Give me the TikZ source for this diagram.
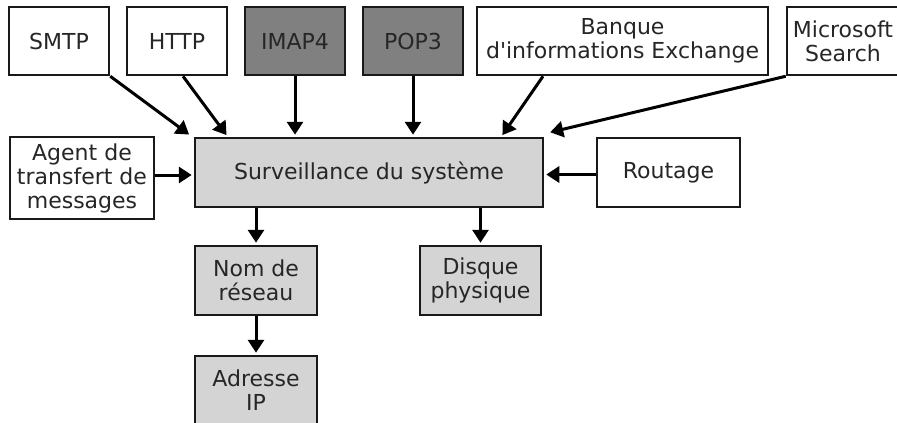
\documentclass[tikz,border=0pt]{standalone}
\usepackage{fontspec}
\setmainfont{DejaVu Sans}
\usetikzlibrary{positioning, arrows.meta}

\begin{document}
\begin{tikzpicture}[x=1pt, y=-1pt,
    box/.style={draw=black!90, line width=2.5pt, fill=white, text=black!85,
      align=center, inner sep=0pt, minimum height=68pt,
      font=\fontsize{22}{24}\selectfont},
    dark/.style={box, fill=black!50},
    light/.style={box, fill=black!17},
    flow/.style={line width=3pt, shorten >=2pt,
      -{Triangle[length=13pt, width=16pt]}}]
  \clip (0,0) rectangle (897,423);
  % sources
  \node[box, minimum width=100pt] (smtp) at (59,41) {SMTP};
  \node[box, minimum width=100pt] (http) at (177,41) {HTTP};
  \node[dark, minimum width=100pt] (imap) at (295,41) {IMAP4};
  \node[dark, minimum width=100pt] (pop) at (413,41) {POP3};
  \node[box, minimum width=291pt] (banque) at (622.5,41) {Banque\\d\textquotesingle informations Exchange};
  \node[box, minimum width=112pt] (search) at (843,41) {Microsoft\\Search};
  \node[box, minimum width=144pt, minimum height=82pt] (agent) at (82,178) {Agent de\\transfert de\\messages};
  \node[box, minimum width=143pt, minimum height=69pt] (routage) at (668.5,172.5) {Routage};
  % surveillance
  \node[light, minimum width=348pt, minimum height=69pt] (surv) at (369,172.5) {Surveillance du système};
  \node[light, minimum width=122pt, minimum height=69pt] (nom) at (256,280.5) {Nom de\\réseau};
  \node[light, minimum width=121pt, minimum height=69pt] (disque) at (480.5,280.5) {Disque\\physique};
  \node[light, minimum width=122pt, minimum height=69pt] (ip) at (256,390.5) {Adresse\\IP};

  \draw[flow] (smtp.south east) -- ([shift={(-3pt,1pt)}]surv.north west);
  \draw[flow] ([xshift=6pt]http.south) -- ([xshift=34pt]surv.north west);
  \draw[flow] (imap) -- (imap |- surv.north);
  \draw[flow] (pop) -- (pop |- surv.north);
  \draw[flow] ([xshift=-79.5pt]banque.south) -- ([xshift=-43pt]surv.north east);
  \draw[flow] (search.south west) -- ([shift={(4pt,4pt)}]surv.north east);
  \draw[flow] ([yshift=3pt]agent.east) -- ([yshift=3pt]agent.east -| surv.west);
  \draw[flow] ([yshift=-2pt]routage.west) -- ([yshift=-2pt]routage.west -| surv.east);
  \draw[flow] (nom |- surv.south) -- (nom);
  \draw[flow] (disque |- surv.south) -- (disque);
  \draw[flow] (nom) -- (ip);
\end{tikzpicture}
\end{document}
